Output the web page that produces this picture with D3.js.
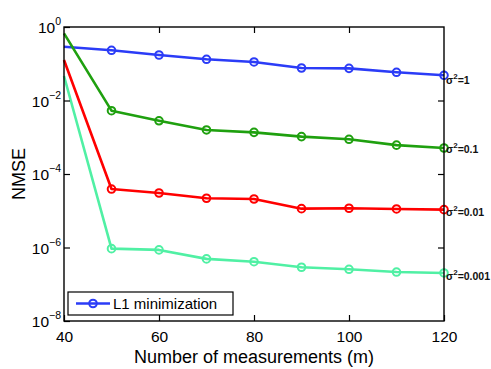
<!DOCTYPE html>
<html>
<head>
<meta charset="utf-8">
<script src="https://cdn.jsdelivr.net/npm/d3@7"></script>
<style>
  body { margin: 0; background: #fff; }
  text { font-family: "Liberation Sans", Arial, sans-serif; }
</style>
</head>
<body>
<svg width="491" height="369"></svg>
<script>
// data
var measurements = [40, 50, 60, 70, 80, 90, 100, 110, 120];
var nmseSigma1 = [0.29, 0.232, 0.173, 0.132, 0.112, 0.0766, 0.075, 0.0585, 0.0485];
var nmseSigma01 = [0.67, 0.00528, 0.0028, 0.00158, 0.00136, 0.00104, 0.00088, 0.00061, 0.00051];
var nmseSigma001 = [0.126, 3.9e-5, 3.04e-5, 2.19e-5, 2.09e-5, 1.14e-5, 1.17e-5, 1.12e-5, 1.07e-5];
var nmseSigma0001 = [0.0465, 9.3e-7, 8.6e-7, 4.9e-7, 4.1e-7, 2.9e-7, 2.55e-7, 2.15e-7, 2.03e-7];
var sigmaLabels = ["1", "0.1", "0.01", "0.001"];
var xTicks = [40, 60, 80, 100, 120];
var yTickExps = [0, -2, -4, -6, -8];
var legendLabel = "L1 minimization";

var series = [
  {values: nmseSigma1, color: "#2b3cf7", label: sigmaLabels[0], dy: 6},
  {values: nmseSigma01, color: "#1fa00f", label: sigmaLabels[1], dy: 2},
  {values: nmseSigma001, color: "#ff0000", label: sigmaLabels[2], dy: 3},
  {values: nmseSigma0001, color: "#50f0a4", label: sigmaLabels[3], dy: 4}
];

var svg = d3.select("svg"),
  margin = {left: 64, top: 27, right: 47, bottom: 48},
  width = +svg.attr("width"),
  height = +svg.attr("height");

var x = d3.scaleLinear().domain([40, 120]).range([margin.left, width - margin.right]);
var y = d3.scaleLog().domain([1e-8, 1]).range([height - margin.bottom, margin.top]);

// lines and markers
var line = d3.line()
  .x(function (d, i) { return x(measurements[i]); })
  .y(function (d) { return y(d); });

series.forEach(function (s) {
  svg.append("path")
    .attr("d", line(s.values))
    .attr("fill", "none")
    .attr("stroke", s.color)
    .attr("stroke-width", 2.6)
    .attr("stroke-linejoin", "round");

  svg.selectAll(null)
    .data(s.values.slice(1))
    .enter()
    .append("circle")
    .attr("cx", function (d, i) { return x(measurements[i + 1]); })
    .attr("cy", function (d) { return y(d); })
    .attr("r", 3.8)
    .attr("fill", "none")
    .attr("stroke", s.color)
    .attr("stroke-width", 2);

  var last = s.values[s.values.length - 1];
  var t = svg.append("text")
    .attr("x", x(120) + 2)
    .attr("y", y(last) + s.dy)
    .attr("dominant-baseline", "middle")
    .attr("font-size", 10.5)
    .attr("font-weight", "bold")
    .attr("fill", "#111");
  t.append("tspan").text("\u03c3");
  t.append("tspan").attr("font-size", 8).attr("dy", -4).text("2");
  t.append("tspan").attr("dy", 4).text("=" + s.label);
});

// axes box
svg.append("rect")
  .attr("x", x(40)).attr("y", y(1))
  .attr("width", x(120) - x(40)).attr("height", y(1e-8) - y(1))
  .attr("fill", "none").attr("stroke", "#000").attr("stroke-width", 1.4);

var xAxisBottom = d3.axisBottom(x).tickValues(xTicks).tickSizeInner(-6).tickSizeOuter(0).tickPadding(10);
var xAxisTop = d3.axisTop(x).tickValues(xTicks.slice(1, -1)).tickSizeInner(-6).tickSizeOuter(0).tickFormat("");
var yAxisLeft = d3.axisLeft(y).tickValues(yTickExps.map(function (e) { return Math.pow(10, e); })).tickSizeInner(-6).tickSizeOuter(0).tickFormat("");
var yAxisRight = d3.axisRight(y).tickValues(yTickExps.slice(1, -1).map(function (e) { return Math.pow(10, e); })).tickSizeInner(-6).tickSizeOuter(0).tickFormat("");

var gxb = svg.append("g").attr("transform", "translate(0," + y(1e-8) + ")").call(xAxisBottom);
svg.append("g").attr("transform", "translate(0," + y(1) + ")").call(xAxisTop);
svg.append("g").attr("transform", "translate(" + x(40) + ",0)").call(yAxisLeft);
svg.append("g").attr("transform", "translate(" + x(120) + ",0)").call(yAxisRight);

svg.selectAll(".domain").remove();
svg.selectAll(".tick line").attr("stroke", "#000").attr("stroke-width", 1.2);
gxb.selectAll(".tick text")
  .attr("font-size", 15.5)
  .attr("fill", "#000")
  .attr("font-family", "Liberation Sans, Arial, sans-serif");

// y tick labels 10^k
yTickExps.forEach(function (e) {
  var t = svg.append("text")
    .attr("x", x(40) - 3)
    .attr("y", y(Math.pow(10, e)) + 6)
    .attr("text-anchor", "end")
    .attr("font-size", 15.5)
    .attr("fill", "#000");
  t.append("tspan").text("10");
  t.append("tspan")
    .attr("font-size", 10.5)
    .attr("dy", -8)
    .text(e === 0 ? "0" : "\u2212" + Math.abs(e));
});

// axis titles
svg.append("text")
  .attr("x", (x(40) + x(120)) / 2)
  .attr("y", 363)
  .attr("text-anchor", "middle")
  .attr("font-size", 18)
  .text("Number of measurements (m)");

svg.append("text")
  .attr("transform", "translate(25," + ((y(1) + y(1e-8)) / 2) + ") rotate(-90)")
  .attr("text-anchor", "middle")
  .attr("font-size", 18)
  .text("NMSE");

// legend
var lg = svg.append("g").attr("transform", "translate(68,292)");
lg.append("rect")
  .attr("width", 165).attr("height", 23)
  .attr("fill", "#fff").attr("stroke", "#000").attr("stroke-width", 1.2);
lg.append("line")
  .attr("x1", 8).attr("x2", 42).attr("y1", 11.5).attr("y2", 11.5)
  .attr("stroke", series[0].color).attr("stroke-width", 2.6);
lg.append("circle")
  .attr("cx", 25).attr("cy", 11.5).attr("r", 3.8)
  .attr("fill", "none").attr("stroke", series[0].color).attr("stroke-width", 2);
lg.append("text")
  .attr("x", 45).attr("y", 17)
  .attr("font-size", 15)
  .text(legendLabel);
</script>
</body>
</html>
